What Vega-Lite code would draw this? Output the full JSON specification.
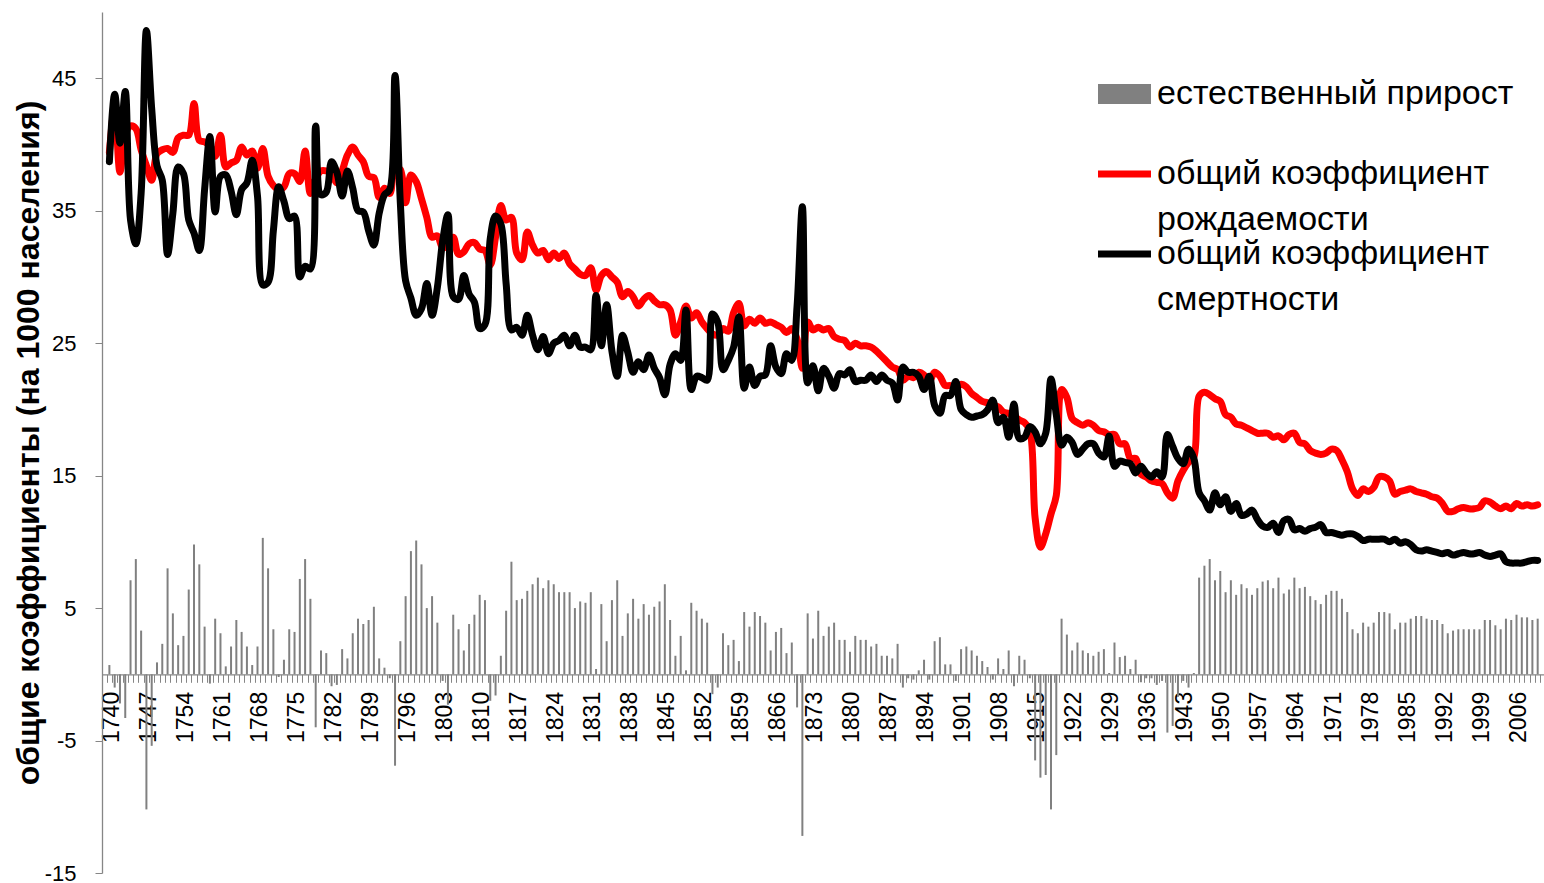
{
  "$schema": "https://vega.github.io/schema/vega-lite/v6.json",
  "width": 1442,
  "height": 861,
  "autosize": {"type": "none"},
  "padding": {"left": 102, "top": 12, "right": 0, "bottom": 10},
  "background": "white",
  "config": {"view": {"stroke": null}, "font": "Liberation Sans"},
  "data": {"values": [
    {"year":1740,"b":39.4,"d":38.7,"n":0.7},{"year":1741,"b":42.8,"d":43.8,"n":-1.0},{"year":1742,"b":37.9,"d":40.1,"n":-2.2},{"year":1743,"b":40.7,"d":44.0,"n":-3.3},{"year":1744,"b":41.4,"d":34.3,"n":7.1},{"year":1745,"b":41.2,"d":32.5,"n":8.7},{"year":1746,"b":39.6,"d":36.3,"n":3.3},{"year":1747,"b":38.4,"d":48.6,"n":-10.2},{"year":1748,"b":37.3,"d":42.7,"n":-5.4},{"year":1749,"b":39.3,"d":38.4,"n":0.9},
    {"year":1750,"b":39.6,"d":37.3,"n":2.3},{"year":1751,"b":39.7,"d":31.7,"n":8.0},{"year":1752,"b":39.4,"d":34.8,"n":4.6},{"year":1753,"b":40.5,"d":38.3,"n":2.2},{"year":1754,"b":40.7,"d":37.8,"n":2.9},{"year":1755,"b":40.7,"d":34.3,"n":6.4},{"year":1756,"b":43.1,"d":33.3,"n":9.8},{"year":1757,"b":40.3,"d":32.0,"n":8.3},{"year":1758,"b":40.2,"d":36.6,"n":3.6},{"year":1759,"b":39.9,"d":40.6,"n":-0.7},
    {"year":1760,"b":39.1,"d":34.9,"n":4.2},{"year":1761,"b":40.7,"d":37.6,"n":3.1},{"year":1762,"b":38.3,"d":37.7,"n":0.6},{"year":1763,"b":38.6,"d":36.5,"n":2.1},{"year":1764,"b":38.8,"d":34.7,"n":4.1},{"year":1765,"b":39.8,"d":36.6,"n":3.2},{"year":1766,"b":39.2,"d":37.1,"n":2.1},{"year":1767,"b":39.5,"d":38.8,"n":0.7},{"year":1768,"b":38.2,"d":36.1,"n":2.1},{"year":1769,"b":39.7,"d":29.4,"n":10.3},
    {"year":1770,"b":37.6,"d":29.6,"n":8.0},{"year":1771,"b":36.9,"d":33.5,"n":3.4},{"year":1772,"b":36.6,"d":36.8,"n":-0.2},{"year":1773,"b":36.8,"d":35.7,"n":1.1},{"year":1774,"b":37.8,"d":34.4,"n":3.4},{"year":1775,"b":37.8,"d":34.6,"n":3.2},{"year":1776,"b":37.2,"d":30.0,"n":7.2},{"year":1777,"b":39.5,"d":30.8,"n":8.7},{"year":1778,"b":36.3,"d":30.6,"n":5.7},{"year":1779,"b":37.4,"d":41.4,"n":-4.0},
    {"year":1780,"b":38.0,"d":36.2,"n":1.8},{"year":1781,"b":38.0,"d":36.4,"n":1.6},{"year":1782,"b":37.8,"d":38.7,"n":-0.9},{"year":1783,"b":37.1,"d":37.9,"n":-0.8},{"year":1784,"b":38.0,"d":36.1,"n":1.9},{"year":1785,"b":39.2,"d":38.0,"n":1.2},{"year":1786,"b":39.8,"d":36.7,"n":3.1},{"year":1787,"b":39.2,"d":35.0,"n":4.2},{"year":1788,"b":38.7,"d":34.9,"n":3.8},{"year":1789,"b":37.6,"d":33.5,"n":4.1},
    {"year":1790,"b":37.5,"d":32.4,"n":5.1},{"year":1791,"b":36.0,"d":34.8,"n":1.2},{"year":1792,"b":36.7,"d":36.2,"n":0.5},{"year":1793,"b":36.3,"d":36.6,"n":-0.3},{"year":1794,"b":38.3,"d":45.2,"n":-6.9},{"year":1795,"b":38.1,"d":35.6,"n":2.5},{"year":1796,"b":35.6,"d":29.7,"n":5.9},{"year":1797,"b":37.7,"d":28.4,"n":9.3},{"year":1798,"b":37.2,"d":27.1,"n":10.1},{"year":1799,"b":35.9,"d":27.6,"n":8.3},
    {"year":1800,"b":34.5,"d":29.5,"n":5.0},{"year":1801,"b":33.0,"d":27.1,"n":5.9},{"year":1802,"b":33.1,"d":29.2,"n":3.9},{"year":1803,"b":32.2,"d":32.7,"n":-0.5},{"year":1804,"b":32.4,"d":34.7,"n":-2.3},{"year":1805,"b":33.0,"d":28.5,"n":4.5},{"year":1806,"b":31.7,"d":28.3,"n":3.4},{"year":1807,"b":31.9,"d":30.1,"n":1.8},{"year":1808,"b":32.5,"d":28.7,"n":3.8},{"year":1809,"b":32.6,"d":28.1,"n":4.5},
    {"year":1810,"b":32.1,"d":26.1,"n":6.0},{"year":1811,"b":32.0,"d":26.4,"n":5.6},{"year":1812,"b":30.9,"d":32.9,"n":-2.0},{"year":1813,"b":33.0,"d":34.6,"n":-1.6},{"year":1814,"b":35.4,"d":34.0,"n":1.4},{"year":1815,"b":34.3,"d":29.5,"n":4.8},{"year":1816,"b":34.5,"d":26.0,"n":8.5},{"year":1817,"b":31.8,"d":26.2,"n":5.6},{"year":1818,"b":31.3,"d":25.6,"n":5.7},{"year":1819,"b":33.4,"d":27.1,"n":6.3},
    {"year":1820,"b":32.4,"d":25.6,"n":6.8},{"year":1821,"b":31.8,"d":24.5,"n":7.3},{"year":1822,"b":32.0,"d":25.5,"n":6.5},{"year":1823,"b":31.3,"d":24.2,"n":7.1},{"year":1824,"b":31.8,"d":25.0,"n":6.8},{"year":1825,"b":31.4,"d":25.2,"n":6.2},{"year":1826,"b":31.8,"d":25.6,"n":6.2},{"year":1827,"b":31.0,"d":24.8,"n":6.2},{"year":1828,"b":30.6,"d":25.6,"n":5.0},{"year":1829,"b":30.2,"d":24.7,"n":5.5},
    {"year":1830,"b":30.1,"d":24.7,"n":5.4},{"year":1831,"b":30.7,"d":24.5,"n":6.2},{"year":1832,"b":29.0,"d":28.6,"n":0.4},{"year":1833,"b":30.1,"d":24.8,"n":5.3},{"year":1834,"b":30.4,"d":27.9,"n":2.5},{"year":1835,"b":30.0,"d":24.4,"n":5.6},{"year":1836,"b":29.6,"d":22.5,"n":7.1},{"year":1837,"b":28.5,"d":25.6,"n":2.9},{"year":1838,"b":28.9,"d":24.3,"n":4.6},{"year":1839,"b":28.5,"d":22.8,"n":5.7},
    {"year":1840,"b":27.8,"d":23.6,"n":4.2},{"year":1841,"b":28.3,"d":23.0,"n":5.3},{"year":1842,"b":28.6,"d":24.1,"n":4.5},{"year":1843,"b":28.2,"d":23.1,"n":5.1},{"year":1844,"b":27.9,"d":22.4,"n":5.5},{"year":1845,"b":27.9,"d":21.1,"n":6.8},{"year":1846,"b":27.5,"d":23.4,"n":4.1},{"year":1847,"b":25.6,"d":24.2,"n":1.4},{"year":1848,"b":26.6,"d":23.7,"n":2.9},{"year":1849,"b":27.8,"d":27.5,"n":0.3},
    {"year":1850,"b":26.9,"d":21.5,"n":5.4},{"year":1851,"b":27.3,"d":22.5,"n":4.8},{"year":1852,"b":26.6,"d":22.4,"n":4.2},{"year":1853,"b":26.1,"d":22.2,"n":3.9},{"year":1854,"b":25.7,"d":27.2,"n":-1.5},{"year":1855,"b":25.6,"d":26.6,"n":-1.0},{"year":1856,"b":26.1,"d":23.0,"n":3.1},{"year":1857,"b":25.9,"d":23.7,"n":2.2},{"year":1858,"b":27.3,"d":24.7,"n":2.6},{"year":1859,"b":28.0,"d":27.0,"n":1.0},
    {"year":1860,"b":26.3,"d":21.6,"n":4.7},{"year":1861,"b":26.8,"d":23.2,"n":3.6},{"year":1862,"b":26.5,"d":21.8,"n":4.7},{"year":1863,"b":26.9,"d":22.5,"n":4.4},{"year":1864,"b":26.5,"d":22.6,"n":3.9},{"year":1865,"b":26.6,"d":24.8,"n":1.8},{"year":1866,"b":26.4,"d":23.2,"n":3.2},{"year":1867,"b":26.2,"d":22.7,"n":3.5},{"year":1868,"b":25.8,"d":24.2,"n":1.6},{"year":1869,"b":26.1,"d":23.7,"n":2.4},
    {"year":1870,"b":25.3,"d":27.8,"n":-2.5},{"year":1871,"b":23.1,"d":35.3,"n":-12.2},{"year":1872,"b":26.6,"d":22.0,"n":4.6},{"year":1873,"b":26.0,"d":23.3,"n":2.7},{"year":1874,"b":26.2,"d":21.4,"n":4.8},{"year":1875,"b":26.0,"d":23.1,"n":2.9},{"year":1876,"b":26.1,"d":22.5,"n":3.6},{"year":1877,"b":25.5,"d":21.6,"n":3.9},{"year":1878,"b":25.3,"d":22.7,"n":2.6},{"year":1879,"b":25.2,"d":22.6,"n":2.6},
    {"year":1880,"b":24.7,"d":23.0,"n":1.7},{"year":1881,"b":25.0,"d":22.1,"n":2.9},{"year":1882,"b":24.8,"d":22.2,"n":2.6},{"year":1883,"b":24.8,"d":22.2,"n":2.6},{"year":1884,"b":24.7,"d":22.6,"n":2.1},{"year":1885,"b":24.4,"d":22.1,"n":2.3},{"year":1886,"b":24.0,"d":22.6,"n":1.4},{"year":1887,"b":23.6,"d":22.2,"n":1.4},{"year":1888,"b":23.2,"d":22.0,"n":1.2},{"year":1889,"b":23.0,"d":20.7,"n":2.3},
    {"year":1890,"b":22.2,"d":23.2,"n":-1.0},{"year":1891,"b":22.5,"d":22.8,"n":-0.3},{"year":1892,"b":22.4,"d":22.8,"n":-0.4},{"year":1893,"b":22.8,"d":22.5,"n":0.3},{"year":1894,"b":22.6,"d":21.5,"n":1.1},{"year":1895,"b":22.1,"d":22.5,"n":-0.4},{"year":1896,"b":22.8,"d":20.3,"n":2.5},{"year":1897,"b":22.5,"d":19.7,"n":2.8},{"year":1898,"b":21.8,"d":21.05,"n":0.75},{"year":1899,"b":21.8,"d":21.05,"n":0.75},
    {"year":1900,"b":21.6,"d":22.1,"n":-0.5},{"year":1901,"b":21.9,"d":20.0,"n":1.9},{"year":1902,"b":21.7,"d":19.6,"n":2.1},{"year":1903,"b":21.2,"d":19.4,"n":1.8},{"year":1904,"b":20.9,"d":19.5,"n":1.4},{"year":1905,"b":20.6,"d":19.6,"n":1.0},{"year":1906,"b":20.5,"d":19.95,"n":0.55},{"year":1907,"b":20.3,"d":20.7,"n":-0.4},{"year":1908,"b":20.2,"d":19.0,"n":1.2},{"year":1909,"b":19.8,"d":19.4,"n":0.4},
    {"year":1910,"b":19.7,"d":17.9,"n":1.8},{"year":1911,"b":19.5,"d":20.4,"n":-0.9},{"year":1912,"b":19.2,"d":17.8,"n":1.4},{"year":1913,"b":19.0,"d":17.9,"n":1.1},{"year":1914,"b":18.4,"d":18.7,"n":-0.3},{"year":1915,"b":11.8,"d":18.3,"n":-6.5},{"year":1916,"b":9.6,"d":17.4,"n":-7.8},{"year":1917,"b":10.6,"d":18.2,"n":-7.6},{"year":1918,"b":12.1,"d":22.3,"n":-10.2},{"year":1919,"b":13.5,"d":19.6,"n":-6.1},
    {"year":1920,"b":21.5,"d":17.3,"n":4.2},{"year":1921,"b":20.9,"d":17.9,"n":3.0},{"year":1922,"b":19.3,"d":17.5,"n":1.8},{"year":1923,"b":19.0,"d":16.6,"n":2.4},{"year":1924,"b":18.8,"d":17.0,"n":1.8},{"year":1925,"b":19.0,"d":17.4,"n":1.6},{"year":1926,"b":18.8,"d":17.4,"n":1.4},{"year":1927,"b":18.4,"d":16.7,"n":1.7},{"year":1928,"b":18.3,"d":16.4,"n":1.9},{"year":1929,"b":18.1,"d":18.0,"n":0.1},
    {"year":1930,"b":18.1,"d":15.7,"n":2.4},{"year":1931,"b":17.4,"d":16.1,"n":1.3},{"year":1932,"b":17.4,"d":16.0,"n":1.4},{"year":1933,"b":16.3,"d":15.9,"n":0.4},{"year":1934,"b":16.3,"d":15.2,"n":1.1},{"year":1935,"b":15.1,"d":15.7,"n":-0.6},{"year":1936,"b":14.9,"d":15.2,"n":-0.3},{"year":1937,"b":14.6,"d":14.9,"n":-0.3},{"year":1938,"b":14.5,"d":15.3,"n":-0.8},{"year":1939,"b":14.4,"d":14.9,"n":-0.5},
    {"year":1940,"b":13.7,"d":18.1,"n":-4.4},{"year":1941,"b":13.3,"d":17.2,"n":-3.9},{"year":1942,"b":14.6,"d":16.3,"n":-1.7},{"year":1943,"b":15.4,"d":15.9,"n":-0.5},{"year":1944,"b":16.0,"d":17.0,"n":-1.0},{"year":1945,"b":16.4,"d":16.3,"n":0.1},{"year":1946,"b":21.0,"d":13.7,"n":7.3},{"year":1947,"b":21.3,"d":13.1,"n":8.2},{"year":1948,"b":21.1,"d":12.4,"n":8.7},{"year":1949,"b":20.8,"d":13.7,"n":7.1},
    {"year":1950,"b":20.6,"d":12.8,"n":7.8},{"year":1951,"b":19.6,"d":13.4,"n":6.2},{"year":1952,"b":19.4,"d":12.3,"n":7.1},{"year":1953,"b":18.9,"d":12.9,"n":6.0},{"year":1954,"b":18.8,"d":12.0,"n":6.8},{"year":1955,"b":18.6,"d":12.1,"n":6.5},{"year":1956,"b":18.4,"d":12.4,"n":6.0},{"year":1957,"b":18.2,"d":11.7,"n":6.5},{"year":1958,"b":18.2,"d":11.2,"n":7.0},{"year":1959,"b":18.2,"d":11.1,"n":7.1},
    {"year":1960,"b":17.9,"d":11.4,"n":6.5},{"year":1961,"b":18.0,"d":10.7,"n":7.3},{"year":1962,"b":17.7,"d":11.6,"n":6.1},{"year":1963,"b":18.1,"d":11.7,"n":6.4},{"year":1964,"b":18.2,"d":10.9,"n":7.3},{"year":1965,"b":17.5,"d":11.0,"n":6.5},{"year":1966,"b":17.4,"d":10.8,"n":6.6},{"year":1967,"b":16.9,"d":11.0,"n":5.9},{"year":1968,"b":16.7,"d":11.1,"n":5.6},{"year":1969,"b":16.6,"d":11.3,"n":5.3},
    {"year":1970,"b":16.7,"d":10.7,"n":6.0},{"year":1971,"b":17.0,"d":10.7,"n":6.3},{"year":1972,"b":16.9,"d":10.6,"n":6.3},{"year":1973,"b":16.2,"d":10.5,"n":5.7},{"year":1974,"b":15.3,"d":10.6,"n":4.7},{"year":1975,"b":14.0,"d":10.6,"n":3.4},{"year":1976,"b":13.5,"d":10.4,"n":3.1},{"year":1977,"b":14.0,"d":10.1,"n":3.9},{"year":1978,"b":13.8,"d":10.2,"n":3.6},{"year":1979,"b":14.1,"d":10.2,"n":3.9},
    {"year":1980,"b":14.9,"d":10.2,"n":4.7},{"year":1981,"b":14.9,"d":10.2,"n":4.7},{"year":1982,"b":14.6,"d":10.0,"n":4.6},{"year":1983,"b":13.6,"d":10.2,"n":3.4},{"year":1984,"b":13.8,"d":9.9,"n":3.9},{"year":1985,"b":13.9,"d":10.0,"n":3.9},{"year":1986,"b":14.0,"d":9.8,"n":4.2},{"year":1987,"b":13.8,"d":9.4,"n":4.4},{"year":1988,"b":13.7,"d":9.3,"n":4.4},{"year":1989,"b":13.6,"d":9.4,"n":4.2},
    {"year":1990,"b":13.4,"d":9.3,"n":4.1},{"year":1991,"b":13.3,"d":9.2,"n":4.1},{"year":1992,"b":12.9,"d":9.1,"n":3.8},{"year":1993,"b":12.3,"d":9.2,"n":3.1},{"year":1994,"b":12.3,"d":9.0,"n":3.3},{"year":1995,"b":12.5,"d":9.1,"n":3.4},{"year":1996,"b":12.6,"d":9.2,"n":3.4},{"year":1997,"b":12.5,"d":9.1,"n":3.4},{"year":1998,"b":12.5,"d":9.1,"n":3.4},{"year":1999,"b":12.6,"d":9.2,"n":3.4},
    {"year":2000,"b":13.1,"d":9.0,"n":4.1},{"year":2001,"b":13.0,"d":8.9,"n":4.1},{"year":2002,"b":12.7,"d":9.0,"n":3.7},{"year":2003,"b":12.5,"d":9.1,"n":3.4},{"year":2004,"b":12.7,"d":8.5,"n":4.2},{"year":2005,"b":12.5,"d":8.4,"n":4.1},{"year":2006,"b":12.9,"d":8.4,"n":4.5},{"year":2007,"b":12.7,"d":8.4,"n":4.3},{"year":2008,"b":12.8,"d":8.5,"n":4.3},{"year":2009,"b":12.7,"d":8.6,"n":4.1},
    {"year":2010,"b":12.8,"d":8.6,"n":4.2}
  ]},
  "encoding": {
    "x": {
      "field": "year", "type": "quantitative",
      "scale": {"domain": [1739.55, 2010.25], "zero": false, "nice": false},
      "axis": {
        "title": null, "grid": false, "offset": -198.7, "tickCount": 300,
        "tickOffset": 2.66, "labelOffset": -1,
        "labelExpr": "(datum.value - 1740) % 7 == 0 ? '' + datum.value : ''",
        "labelAngle": -90, "labelAlign": "right", "labelBaseline": "middle",
        "labelFontSize": 23, "labelColor": "#000000", "labelPadding": 9,
        "labelOverlap": false, "labelFlush": false,
        "tickSize": 8, "tickColor": "#868686", "domainColor": "#868686", "domainWidth": 1.3
      }
    }
  },
  "layer": [
    {
      "mark": {"type": "bar", "size": 2},
      "encoding": {
        "y": {
          "field": "n", "type": "quantitative", "stack": null,
          "title": "общие коэффициенты (на 1000 населения)",
          "scale": {"domain": [-15, 50], "nice": false},
          "axis": {
            "values": [-15, -5, 5, 15, 25, 35, 45], "grid": false,
            "labelExpr": "'' + datum.value",
            "tickSize": 7, "tickColor": "#868686", "domainColor": "#868686", "domainWidth": 1.3,
            "labelFontSize": 22, "labelColor": "#000000", "labelPadding": 19,
            "titleFontSize": 32, "titleFontWeight": "bold", "titleColor": "#000000",
            "titleX": -74, "titleBaseline": "middle"
          }
        },
        "color": {
          "datum": "естественный прирост", "type": "nominal",
          "scale": {
            "domain": ["естественный прирост", "общий коэффициент рождаемости", "общий коэффициент смертности"],
            "range": ["#808080", "#ff0000", "#000000"]
          },
          "legend": {
            "title": null, "orient": "none", "legendX": 1005.5, "legendY": 65,
            "direction": "vertical", "symbolSize": 1024, "labelFontSize": 34,
            "labelColor": "#000000", "labelOffset": 15.5, "rowPadding": 0, "labelLimit": 0,
            "labelBaseline": "middle",
            "labelExpr": "indexof(datum.label, 'общий') == 0 ? [slice(datum.label, 0, 17), slice(datum.label, 18)] : [datum.label, '']",
            "encode": {
              "symbols": {"update": {
                "shape": {"signal": "datum.value == 'естественный прирост' ? 'M-1.656,-0.625L1.656,-0.625L1.656,0.625L-1.656,0.625Z' : 'M-1.656,-0.219L1.656,-0.219L1.656,0.219L-1.656,0.219Z'"},
                "fill": {"signal": "datum.value == 'естественный прирост' ? '#808080' : (datum.value == 'общий коэффициент рождаемости' ? '#ff0000' : '#000000')"},
                "stroke": {"value": "transparent"},
                "strokeWidth": {"value": 0},
                "opacity": {"value": 1}
              }},
              "labels": {"update": {"lineHeight": {"value": 46}}}
            }
          }
        }
      }
    },
    {
      "mark": {"type": "line", "strokeWidth": 7, "interpolate": "catmull-rom", "strokeJoin": "round", "strokeCap": "round"},
      "encoding": {
        "y": {"field": "b", "type": "quantitative", "title": "общие коэффициенты (на 1000 населения)"},
        "color": {"datum": "общий коэффициент рождаемости", "type": "nominal"}
      }
    },
    {
      "mark": {"type": "line", "strokeWidth": 7, "interpolate": "catmull-rom", "strokeJoin": "round", "strokeCap": "round"},
      "encoding": {
        "y": {"field": "d", "type": "quantitative", "title": "общие коэффициенты (на 1000 населения)"},
        "color": {"datum": "общий коэффициент смертности", "type": "nominal"}
      }
    }
  ]
}
